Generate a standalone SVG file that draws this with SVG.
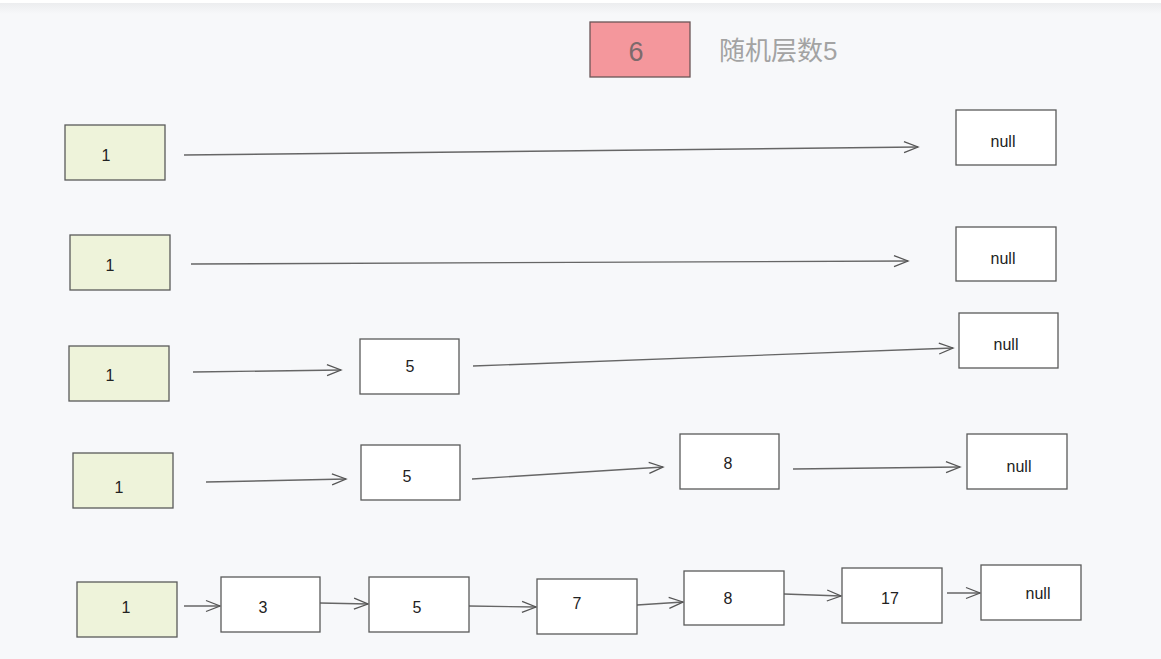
<svg xmlns="http://www.w3.org/2000/svg" width="1161" height="659" viewBox="0 0 1161 659">
<style>
.g{fill:#eef3da;stroke:#5a5a5a;stroke-width:1.3}
.w{fill:#ffffff;stroke:#5a5a5a;stroke-width:1.3}
.t{font-family:"Liberation Sans",Arial,sans-serif;font-size:16px;fill:#222;text-anchor:middle;dominant-baseline:central}
.c{fill:none;stroke:#666;stroke-width:1.4}
</style>
<defs>
<linearGradient id="bg" x1="0" y1="0" x2="0" y2="1">
<stop offset="0" stop-color="#e9eaec"/><stop offset="1" stop-color="#f7f8fa"/>
</linearGradient>
<marker id="a" markerUnits="userSpaceOnUse" markerWidth="18" markerHeight="14" refX="15" refY="7" orient="auto">
<path d="M1,1.5 L15,7 L1,12.5" fill="none" stroke="#555" stroke-width="1.3"/>
</marker>
</defs>
<rect width="1161" height="659" fill="#f7f8fa"/>
<rect x="0" y="0" width="1161" height="14" fill="url(#bg)"/>
<rect x="0" y="0" width="1161" height="3" fill="#ffffff"/>
<g id="header">
<rect x="590" y="22" width="100" height="55" fill="#f4979c" stroke="#6b5557" stroke-width="1.3"/>
<text x="636" y="52" style="font-family:'Liberation Sans',Arial,sans-serif;font-size:27px;fill:#7d6a6c;text-anchor:middle;dominant-baseline:central">6</text>
<text x="719" y="51" style="font-family:'Liberation Sans','Noto Sans CJK SC',sans-serif;font-size:26px;fill:#a3a3a3;dominant-baseline:central">随机层数5</text>
</g>
<g id="connectors">
<path class="c" d="M184,155 L918,147" marker-end="url(#a)"/>
<path class="c" d="M191,264 L908,261" marker-end="url(#a)"/>
<path class="c" d="M193,372 L341,370" marker-end="url(#a)"/>
<path class="c" d="M473,366 L953,348" marker-end="url(#a)"/>
<path class="c" d="M206,482 L346,479" marker-end="url(#a)"/>
<path class="c" d="M472,479 L663,467" marker-end="url(#a)"/>
<path class="c" d="M793,469 L960,467" marker-end="url(#a)"/>
<path class="c" d="M184,606 L220,606" marker-end="url(#a)"/>
<path class="c" d="M320,603 L368,604" marker-end="url(#a)"/>
<path class="c" d="M469,606 L536,607" marker-end="url(#a)"/>
<path class="c" d="M637,605 L683,602" marker-end="url(#a)"/>
<path class="c" d="M784,594 L841,596" marker-end="url(#a)"/>
<path class="c" d="M947,593 L980,593" marker-end="url(#a)"/>
</g>
<g id="r1-head"><rect class="g" x="65" y="125" width="100" height="55"/><text class="t" x="106" y="155">1</text></g>
<g id="r1-null"><rect class="w" x="956" y="110" width="100" height="55"/><text class="t" x="1003" y="141">null</text></g>
<g id="r2-head"><rect class="g" x="70" y="235" width="100" height="55"/><text class="t" x="110" y="265">1</text></g>
<g id="r2-null"><rect class="w" x="956" y="227" width="100" height="54"/><text class="t" x="1003" y="258">null</text></g>
<g id="r3-head"><rect class="g" x="69" y="346" width="100" height="55"/><text class="t" x="110" y="375">1</text></g>
<g id="r3-5"><rect class="w" x="360" y="339" width="99" height="55"/><text class="t" x="410" y="366">5</text></g>
<g id="r3-null"><rect class="w" x="959" y="313" width="99" height="55"/><text class="t" x="1006" y="344">null</text></g>
<g id="r4-head"><rect class="g" x="73" y="453" width="100" height="55"/><text class="t" x="119" y="487">1</text></g>
<g id="r4-5"><rect class="w" x="361" y="445" width="99" height="55"/><text class="t" x="407" y="476">5</text></g>
<g id="r4-8"><rect class="w" x="680" y="434" width="99" height="55"/><text class="t" x="728" y="463">8</text></g>
<g id="r4-null"><rect class="w" x="967" y="434" width="100" height="55"/><text class="t" x="1019" y="466">null</text></g>
<g id="r5-head"><rect class="g" x="77" y="582" width="100" height="55"/><text class="t" x="126" y="607">1</text></g>
<g id="r5-3"><rect class="w" x="221" y="577" width="99" height="55"/><text class="t" x="263" y="607">3</text></g>
<g id="r5-5"><rect class="w" x="369" y="577" width="100" height="55"/><text class="t" x="417" y="607">5</text></g>
<g id="r5-7"><rect class="w" x="537" y="579" width="100" height="55"/><text class="t" x="577" y="603">7</text></g>
<g id="r5-8"><rect class="w" x="684" y="571" width="100" height="54"/><text class="t" x="728" y="598">8</text></g>
<g id="r5-17"><rect class="w" x="842" y="568" width="100" height="55"/><text class="t" x="890" y="598">17</text></g>
<g id="r5-null"><rect class="w" x="981" y="565" width="100" height="55"/><text class="t" x="1038" y="593">null</text></g>
</svg>
